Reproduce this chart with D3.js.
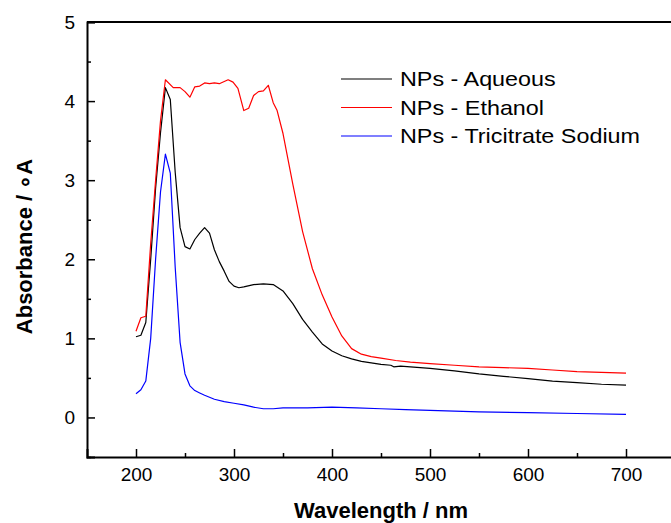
<!DOCTYPE html>
<html>
<head>
<meta charset="utf-8">
<script src="https://cdn.jsdelivr.net/npm/d3@7"></script>
<style>
  body { margin: 0; background: #fff; }
  svg { display: block; font-family: Arial, "Liberation Sans", sans-serif; }
</style>
</head>
<body>
<svg id="chart" width="671" height="523"></svg>
<script>
// spectra
const aqueousWl = [200, 205, 210, 215, 220, 225, 230, 235, 240, 245, 250, 255, 260, 265, 270, 275, 280, 285, 290, 295, 300, 305, 310, 320, 330, 340, 350, 360, 370, 380, 390, 400, 410, 420, 430, 440, 450, 460, 463, 470, 480, 500, 525, 550, 575, 600, 625, 650, 675, 700];
const aqueousAbs = [1.02, 1.04, 1.20, 2.0, 2.9, 3.6, 4.17, 4.02, 3.1, 2.4, 2.16, 2.13, 2.25, 2.33, 2.40, 2.33, 2.12, 1.97, 1.85, 1.72, 1.66, 1.64, 1.65, 1.68, 1.69, 1.68, 1.60, 1.44, 1.24, 1.08, 0.93, 0.84, 0.78, 0.74, 0.71, 0.69, 0.67, 0.66, 0.64, 0.65, 0.64, 0.62, 0.59, 0.55, 0.52, 0.49, 0.46, 0.44, 0.42, 0.41];

const ethanolWl = [200, 205, 210, 215, 220, 225, 230, 238, 245, 250, 255, 260, 265, 270, 275, 280, 285, 294, 299, 304, 310, 315, 320, 325, 330, 335, 340, 344, 350, 360, 370, 380, 390, 400, 410, 420, 430, 440, 450, 465, 480, 500, 525, 550, 575, 600, 625, 650, 675, 700];
const ethanolAbs = [1.09, 1.26, 1.28, 2.2, 3.0, 3.75, 4.27, 4.17, 4.17, 4.12, 4.05, 4.18, 4.19, 4.23, 4.22, 4.23, 4.22, 4.27, 4.24, 4.16, 3.88, 3.91, 4.07, 4.12, 4.13, 4.20, 3.98, 3.88, 3.59, 2.95, 2.35, 1.88, 1.55, 1.27, 1.03, 0.87, 0.80, 0.77, 0.75, 0.72, 0.70, 0.68, 0.66, 0.64, 0.63, 0.62, 0.60, 0.58, 0.57, 0.56];

const citrateWl = [200, 205, 210, 215, 220, 225, 230, 235, 240, 245, 250, 255, 260, 265, 270, 280, 290, 300, 310, 320, 330, 340, 350, 375, 400, 425, 450, 475, 500, 550, 600, 650, 700];
const citrateAbs = [0.30, 0.35, 0.46, 1.0, 2.0, 2.85, 3.33, 3.09, 1.9, 0.95, 0.55, 0.40, 0.34, 0.31, 0.28, 0.23, 0.20, 0.18, 0.16, 0.13, 0.11, 0.11, 0.12, 0.12, 0.13, 0.12, 0.11, 0.10, 0.09, 0.07, 0.06, 0.05, 0.04];

const seriesNames = ["NPs - Aqueous", "NPs - Ethanol", "NPs - Tricitrate Sodium"];
const seriesColors = ["#000000", "#ff0000", "#0000ff"];
const xTicks = [200, 300, 400, 500, 600, 700];
const yTicks = [0, 1, 2, 3, 4, 5];

const series = [
    { name: seriesNames[0], color: seriesColors[0], values: aqueousWl.map((w, i) => ({ w, a: aqueousAbs[i] })) },
    { name: seriesNames[1], color: seriesColors[1], values: ethanolWl.map((w, i) => ({ w, a: ethanolAbs[i] })) },
    { name: seriesNames[2], color: seriesColors[2], values: citrateWl.map((w, i) => ({ w, a: citrateAbs[i] })) }
];

const svg = d3.select("#chart");
const margin = { top: 22, right: -4, bottom: 66, left: 87 };
const width = +svg.attr("width"), height = +svg.attr("height");

const x = d3.scaleLinear().domain([150, 750]).range([margin.left, width - margin.right]);
const y = d3.scaleLinear().domain([-0.5, 5]).range([height - margin.bottom, margin.top]);

// curves
const line = d3.line().x(d => x(d.w)).y(d => y(d.a));
series.forEach(s => {
    svg.append("path")
        .datum(s.values)
        .attr("fill", "none")
        .attr("stroke", s.color)
        .attr("stroke-width", 1.2)
        .attr("stroke-linejoin", "round")
        .attr("d", line);
});

// axes, ticks pointing inwards
const xAxis = svg.append("g")
    .attr("transform", `translate(0,${y(-0.5)})`)
    .call(d3.axisBottom(x).tickValues(d3.range(200, 751, 50)).tickSize(-8).tickPadding(11)
        .tickFormat(d => xTicks.includes(d) ? d : ""));
xAxis.selectAll(".tick line").attr("y2", d => xTicks.includes(d) ? -8 : -4);

const yAxis = svg.append("g")
    .attr("transform", `translate(${x(150)},0)`)
    .call(d3.axisLeft(y).tickValues(d3.range(-0.5, 5.01, 0.5)).tickSize(-8).tickPadding(12)
        .tickFormat(d => yTicks.includes(d) ? d : ""));
yAxis.selectAll(".tick line").attr("x2", d => yTicks.includes(d) ? 8 : 4);

[xAxis, yAxis].forEach(g => {
    g.select(".domain").attr("stroke-width", 2);
    g.selectAll(".tick line").attr("stroke-width", 1.5);
    g.selectAll("text").style("font-size", "19px").attr("fill", "#000");
});

// top and right frame
svg.append("line")
    .attr("x1", x(150)).attr("x2", x(750))
    .attr("y1", y(5)).attr("y2", y(5))
    .attr("stroke", "#000").attr("stroke-width", 2);
svg.append("line")
    .attr("x1", x(750)).attr("x2", x(750))
    .attr("y1", y(5)).attr("y2", y(-0.5))
    .attr("stroke", "#000").attr("stroke-width", 2);

// axis titles
svg.append("text")
    .attr("x", (x(150) + x(750)) / 2).attr("y", 518)
    .attr("text-anchor", "middle")
    .style("font-size", "22px").style("font-weight", "bold")
    .text("Wavelength / nm");

svg.append("text")
    .attr("transform", `translate(32,${(158 + 335) / 2}) rotate(-90)`)
    .attr("text-anchor", "middle")
    .style("font-size", "22px").style("font-weight", "bold")
    .text("Absorbance / \u2218A");

// legend
const legend = svg.append("g").attr("transform", "translate(341,79)");
const labels = [];
series.forEach((s, i) => {
    const row = legend.append("g").attr("transform", `translate(0,${i * 28.5})`);
    row.append("line")
        .attr("x1", 0).attr("x2", 51)
        .attr("stroke", s.color).attr("stroke-width", 1.2);
    labels.push(row.append("text")
        .attr("x", 59).attr("dy", "0.35em")
        .style("font-size", "21px")
        .text(s.name));
});
// the reference legend text is a little wider than the font gives
const stretch = 240 / labels[2].node().getComputedTextLength();
labels.forEach(t => t.attr("textLength", t.node().getComputedTextLength() * stretch)
    .attr("lengthAdjust", "spacingAndGlyphs"));
</script>
</body>
</html>
